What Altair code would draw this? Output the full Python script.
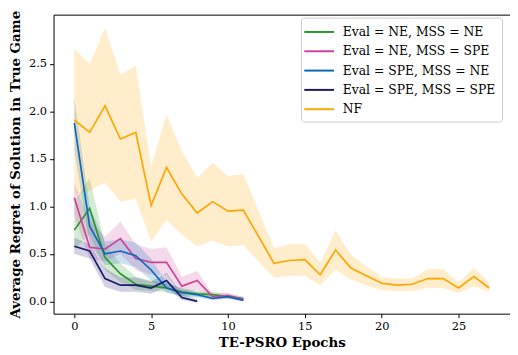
import altair as alt
import pandas as pd

SERIES = ["Eval = NE, MSS = NE", "Eval = NE, MSS = SPE", "Eval = SPE, MSS = NE",
          "Eval = SPE, MSS = SPE", "NF"]
COLORS = ["#2a982a", "#cc4499", "#0a68b8", "#1b1b6e", "#ffa500"]

# Eval = NE, MSS = NE
g_mean = [0.75, 0.98, 0.46, 0.29, 0.18, 0.16, 0.14, 0.10, 0.08, 0.07, 0.05, 0.03]
g_low = [0.55, 0.70, 0.33, 0.20, 0.12, 0.11, 0.10, 0.06, 0.05, 0.04, 0.03, 0.01]
g_up = [1.05, 1.30, 0.60, 0.40, 0.26, 0.22, 0.19, 0.14, 0.11, 0.10, 0.08, 0.05]

# Eval = NE, MSS = SPE
p_mean = [1.09, 0.57, 0.55, 0.66, 0.45, 0.41, 0.41, 0.16, 0.22, 0.05, 0.06, 0.02]
p_low = [0.90, 0.45, 0.42, 0.50, 0.33, 0.28, 0.28, 0.08, 0.12, 0.02, 0.03, 0.00]
p_up = [1.25, 0.85, 0.68, 0.84, 0.60, 0.55, 0.57, 0.26, 0.32, 0.08, 0.09, 0.04]

# Eval = SPE, MSS = NE
b_mean = [1.88, 0.79, 0.50, 0.53, 0.48, 0.33, 0.14, 0.09, 0.07, 0.03, 0.05, 0.01]
b_low = [1.60, 0.60, 0.38, 0.40, 0.36, 0.22, 0.09, 0.05, 0.04, 0.01, 0.03, 0.00]
b_up = [2.15, 1.00, 0.63, 0.65, 0.62, 0.45, 0.20, 0.13, 0.10, 0.05, 0.07, 0.03]

# Eval = SPE, MSS = SPE
n_mean = [0.58, 0.53, 0.24, 0.17, 0.17, 0.14, 0.22, 0.04, 0.00]
n_low = [0.50, 0.45, 0.15, 0.10, 0.10, 0.08, 0.15, 0.01, -0.01]
n_up = [0.67, 0.60, 0.35, 0.25, 0.25, 0.21, 0.30, 0.08, 0.02]

# NF
nf_mean = [1.91, 1.78, 2.06, 1.71, 1.78, 1.01, 1.41, 1.13, 0.93, 1.05, 0.95, 0.96, 0.68, 0.40,
           0.43, 0.44, 0.28, 0.54, 0.35, 0.27, 0.19, 0.17, 0.18, 0.24, 0.24, 0.14, 0.26, 0.14]
nf_low = [1.12, 1.17, 1.25, 1.05, 1.08, 0.63, 0.86, 0.70, 0.58, 0.64, 0.58, 0.59, 0.42, 0.25,
          0.27, 0.27, 0.17, 0.33, 0.23, 0.17, 0.12, 0.11, 0.11, 0.14, 0.14, 0.09, 0.16, 0.10]
nf_up = [2.66, 2.50, 2.88, 2.39, 2.48, 1.42, 1.97, 1.58, 1.30, 1.46, 1.32, 1.34, 0.95, 0.56,
         0.60, 0.61, 0.40, 0.75, 0.49, 0.37, 0.26, 0.24, 0.24, 0.34, 0.34, 0.20, 0.35, 0.20]

X_TICKS = [0, 5, 10, 15, 20, 25]
Y_TICKS = [0.0, 0.5, 1.0, 1.5, 2.0, 2.5]

rows = []
for name, m, lo, up in zip(SERIES,
                           [g_mean, p_mean, b_mean, n_mean, nf_mean],
                           [g_low, p_low, b_low, n_low, nf_low],
                           [g_up, p_up, b_up, n_up, nf_up]):
    for i, (a, b, c) in enumerate(zip(m, lo, up)):
        rows.append({"epoch": i, "mean": a, "lower": b, "upper": c, "series": name})
df = pd.DataFrame(rows)

FONT = "DejaVu Serif"

xenc = alt.X("epoch:Q", scale=alt.Scale(domain=[-1.35, 28.35], nice=False, zero=False),
             axis=alt.Axis(values=X_TICKS, title="TE-PSRO Epochs", format="d"))
cscale = alt.Scale(domain=SERIES, range=COLORS)

bands = alt.Chart(df).mark_area(opacity=0.2).encode(
    x=xenc,
    y=alt.Y("lower:Q", scale=alt.Scale(domain=[-0.13, 3.02], nice=False, zero=False),
            axis=alt.Axis(values=Y_TICKS, format=".1f",
                          title="Average Regret of Solution in True Game")),
    y2="upper:Q",
    color=alt.Color("series:N", scale=cscale, legend=None),
    detail="series:N",
)

lines = alt.Chart(df).mark_line(strokeWidth=1.7).encode(
    x=xenc,
    y=alt.Y("mean:Q"),
    color=alt.Color("series:N", scale=cscale, sort=SERIES,
                    legend=alt.Legend(title=None, orient="none", legendX=250, legendY=3,
                                      strokeColor="#cccccc", cornerRadius=3,
                                      fillColor="white", padding=6,
                                      labelFont=FONT, labelFontSize=12.5,
                                      symbolType="M-1.5,0H2.5", symbolSize=225,
                                      symbolStrokeWidth=2, rowPadding=4.5,
                                      labelOffset=19, labelLimit=300)),
)

chart = alt.layer(bands, lines).resolve_legend(color="independent").properties(
    width=461, height=302, padding={"left": 0, "top": 0, "right": 0, "bottom": 0}
).configure_view(stroke="black", strokeWidth=1).configure_axis(
    grid=False, domain=False, tickColor="black", tickSize=4, labelFont=FONT,
    labelFontSize=11.5, labelColor="black", titleFont=FONT, titleFontSize=13.5,
    titleFontWeight="bold", titleColor="black", labelPadding=3,
).configure_axisY(titlePadding=6).configure_axisX(titlePadding=4).configure_legend(
    labelFont=FONT)

chart.save("out.html", embed_options={"renderer": "svg", "actions": False})
